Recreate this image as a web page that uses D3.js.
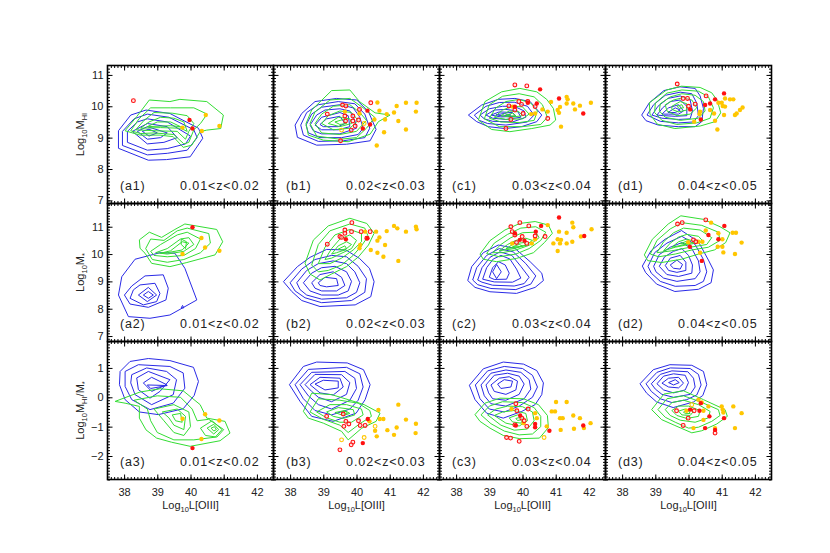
<!DOCTYPE html>
<html>
<head>
<meta charset="utf-8">
<script src="https://cdn.jsdelivr.net/npm/d3@7"></script>
<style>
  body { margin: 0; background: #fff; }
  text { font-family: "Liberation Sans", Arial, sans-serif; fill: #222; }
</style>
</head>
<body>
<svg id="chart" width="830" height="553"></svg>
<script>
// ---- axes ----
const xDomain = [37.5, 42.5];
const xTicks = [38, 39, 40, 41, 42];
const rowDomains = [[6.9, 11.3], [6.8, 11.85], [-2.8, 1.9]];
const rowTicks = [[7, 8, 9, 10, 11], [7, 8, 9, 10, 11], [-2, -1, 0, 1]];
const colLetters = ["a", "b", "c", "d"];
const zBins = ["0.01<z<0.02", "0.02<z<0.03", "0.03<z<0.04", "0.04<z<0.05"];

// ---- contours: each ring is a flat list x0,y0,x1,y1,... (blue = parent sample, green = comparison sample)
const a1Blue = [
  [37.83,9.22, 37.83,8.66, 38.73,8.28, 39.28,8.30, 39.99,8.39, 40.37,8.98, 40.24,9.30, 39.38,9.77, 38.66,9.88, 38.20,9.72],
  [37.95,9.2, 37.95,8.75, 38.7,8.45, 39.3,8.5, 39.9,8.6, 40.2,9.0, 40.1,9.25, 39.35,9.65, 38.7,9.75, 38.3,9.6],
  [38.1,9.2, 38.1,8.85, 38.7,8.6, 39.3,8.65, 39.85,8.8, 40.0,9.05, 39.3,9.5, 38.7,9.6, 38.4,9.5],
  [38.25,9.2, 38.7,8.8, 39.2,8.85, 39.6,9.0, 39.3,9.35, 38.7,9.45],
  [38.4,9.2, 38.7,8.95, 39.1,9.0, 39.3,9.15, 38.7,9.35],
  [38.55,9.2, 38.75,9.05, 39.0,9.15, 38.75,9.27]
];
const a1Green = [
  [38.03,9.22, 38.38,9.67, 38.76,10.20, 39.38,10.15, 39.68,10.22, 40.49,10.15, 40.99,9.72, 40.91,9.29, 40.49,9.24, 40.29,9.19, 40.04,8.76, 39.78,8.69, 39.48,9.03, 39.08,9.08, 38.48,9.08],
  [38.2,9.22, 38.45,9.6, 38.8,9.95, 39.4,9.95, 40.1,9.95, 40.5,9.75, 40.3,9.45, 40.1,9.25, 39.95,8.85, 39.8,8.8, 39.5,9.1, 38.9,9.15, 38.5,9.13],
  [38.35,9.25, 38.6,9.55, 38.9,9.8, 39.45,9.78, 39.9,9.7, 40.1,9.45, 39.95,9.2, 39.85,8.95, 39.6,9.2, 38.9,9.22],
  [38.5,9.3, 38.75,9.5, 39.1,9.65, 39.5,9.62, 39.8,9.5, 39.9,9.2, 39.7,9.3, 39.1,9.32],
  [38.7,9.35, 39.0,9.5, 39.4,9.5, 39.7,9.35, 39.4,9.38]
];
const a2Blue = [
  [38.33,9.81, 39.08,10.05, 39.53,10.03, 39.83,9.48, 40.19,8.32, 39.38,7.77, 38.78,7.65, 38.13,7.71, 37.83,8.50, 37.93,9.17],
  [38.63,9.20, 39.18,9.24, 39.33,8.75, 39.26,8.32, 38.73,8.05, 38.18,8.17, 38.01,8.50, 38.23,8.83],
  [38.48,8.87, 38.93,8.93, 39.08,8.56, 38.98,8.26, 38.58,8.14, 38.18,8.38, 38.28,8.69],
  [38.73,8.78, 38.98,8.50, 38.70,8.26, 38.43,8.50],
  [38.73,8.63, 38.88,8.50, 38.73,8.38, 38.58,8.50],
  [39.72,8.03, 39.76,8.12, 39.8,8.03]
];
const a2Green = [
  [38.46,10.52, 38.76,10.80, 39.13,10.61, 39.53,10.90, 39.83,11.10, 40.79,10.90, 40.97,10.45, 40.74,9.97, 39.89,9.69, 39.38,9.54, 38.83,9.66, 38.63,10.03, 38.48,10.21],
  [38.65,10.2, 38.8,10.55, 39.2,10.5, 39.6,10.85, 39.9,10.95, 40.55,10.75, 40.6,10.4, 40.3,10.05, 39.8,9.8, 39.3,9.7, 38.85,9.8],
  [38.8,10.1, 39.1,10.35, 39.6,10.7, 39.9,10.8, 40.3,10.55, 40.15,10.2, 39.8,9.95, 39.3,9.9, 38.9,9.95],
  [38.95,10.05, 39.3,10.2, 39.7,10.55, 39.95,10.6, 40.1,10.35, 39.8,10.1, 39.3,10.0],
  [39.1,10.03, 39.4,10.12, 39.75,10.45, 39.95,10.4, 39.75,10.15, 39.3,10.05],
  [39.72,10.55, 39.88,10.45, 39.85,10.2, 39.72,10.35]
];
const a3Blue = [
  [37.88,0.88, 38.18,1.22, 38.73,1.32, 39.38,1.25, 40.09,1.02, 40.24,0.54, 40.11,0.06, 39.78,-0.39, 39.03,-0.59, 38.46,-0.50, 38.03,-0.08, 37.86,0.43],
  [38.03,0.88, 38.43,1.11, 39.38,1.05, 39.78,0.83, 39.83,0.31, 39.48,-0.2, 38.78,-0.42, 38.23,-0.08, 38.03,0.37],
  [38.23,0.77, 38.68,1.0, 39.28,0.88, 39.58,0.6, 39.48,0.09, 38.83,-0.25, 38.33,0.09, 38.2,0.49],
  [38.38,0.66, 38.73,0.88, 39.38,0.6, 39.08,0.2, 38.78,-0.03, 38.43,0.26],
  [38.58,0.49, 38.83,0.68, 39.28,0.43, 38.83,0.2],
  [38.7,0.42, 39.3,0.4, 38.8,0.3]
];
const a3Green = [
  [37.73,-0.14, 38.48,0.18, 39.08,0.29, 39.78,0.22, 40.29,-0.25, 40.49,-0.71, 41.04,-0.82, 41.19,-1.22, 40.89,-1.48, 39.99,-1.67, 39.43,-1.53, 38.98,-1.39, 38.66,-1.11, 38.46,-0.71, 38.46,-0.31, 38.03,-0.20],
  [38.3,-0.1, 39.0,0.05, 39.7,0.0, 40.05,-0.4, 40.2,-0.8, 40.55,-0.75, 41.0,-1.1, 40.8,-1.35, 40.1,-1.45, 39.5,-1.45, 39.0,-1.2, 38.8,-0.8, 38.7,-0.4],
  [38.9,-0.4, 39.5,-0.25, 39.95,-0.5, 40.0,-1.0, 39.8,-1.3, 39.5,-1.2, 39.2,-0.8],
  [39.15,-0.5, 39.6,-0.4, 39.85,-0.65, 39.8,-1.1, 39.5,-0.95, 39.35,-0.7],
  [39.45,-0.6, 39.7,-0.55, 39.75,-0.85, 39.55,-0.8],
  [40.3,-1.05, 40.65,-0.8, 40.95,-1.1, 40.75,-1.35, 40.45,-1.3],
  [40.5,-1.05, 40.7,-0.92, 40.85,-1.1, 40.7,-1.25],
  [40.62,-1.05, 40.72,-1.0, 40.78,-1.1, 40.7,-1.15]
];
const b1Blue = [
  [38.15,9.40, 38.35,9.77, 38.75,10.15, 39.40,10.25, 40.01,10.20, 40.36,9.83, 40.59,9.26, 40.41,8.90, 39.70,8.79, 38.80,8.76, 38.22,9.01],
  [38.32,9.4, 38.5,9.8, 38.85,10.05, 39.45,10.15, 39.95,10.08, 40.25,9.75, 40.4,9.3, 40.25,9.0, 39.6,8.9, 38.85,8.88, 38.4,9.08],
  [38.48,9.4, 38.65,9.75, 38.95,9.97, 39.5,10.05, 39.9,9.95, 40.1,9.65, 40.2,9.3, 40.05,9.1, 39.55,9.0, 38.9,9.0, 38.55,9.15],
  [38.6,9.4, 38.8,9.72, 39.05,9.88, 39.5,9.92, 39.8,9.85, 39.95,9.55, 40.0,9.3, 39.5,9.12, 38.95,9.12, 38.7,9.22],
  [38.75,9.4, 38.95,9.65, 39.5,9.8, 39.75,9.7, 39.8,9.35, 39.45,9.25, 38.95,9.25],
  [38.9,9.42, 39.1,9.6, 39.5,9.68, 39.65,9.45, 39.45,9.35, 39.0,9.35]
];
const b1Green = [
  [38.48,9.45, 38.65,9.88, 39.25,10.50, 39.80,10.52, 40.09,10.15, 40.56,9.79, 41.01,9.72, 40.66,9.51, 40.41,9.11, 39.75,8.87, 39.00,8.92, 38.55,9.08],
  [38.6,9.45, 38.75,9.82, 39.2,10.2, 39.8,10.25, 40.2,9.95, 40.55,9.65, 40.3,9.3, 40.0,9.0, 39.5,8.95, 38.8,9.05],
  [38.75,9.45, 38.95,9.75, 39.3,10.0, 39.8,10.05, 40.1,9.8, 40.3,9.55, 40.0,9.2, 39.5,9.1, 38.95,9.15],
  [38.95,9.45, 39.15,9.7, 39.5,9.85, 39.85,9.8, 40.05,9.55, 39.8,9.3, 39.3,9.25],
  [39.15,9.45, 39.45,9.65, 39.8,9.6, 39.85,9.45, 39.5,9.35],
  [39.35,9.5, 39.6,9.58, 39.7,9.45, 39.5,9.42]
];
const b2Blue = [
  [37.80,8.99, 38.22,9.54, 38.60,9.88, 39.10,10.17, 39.68,10.15, 40.09,9.84, 40.39,9.48, 40.53,8.99, 40.43,8.44, 39.96,8.14, 38.90,8.08, 38.35,8.30, 38.05,8.63],
  [38.0,8.95, 38.35,9.45, 38.75,9.8, 39.25,9.95, 39.7,9.9, 40.05,9.55, 40.3,9.1, 40.25,8.6, 39.85,8.3, 38.95,8.22, 38.45,8.4, 38.15,8.65],
  [38.2,8.95, 38.5,9.4, 38.85,9.65, 39.3,9.75, 39.7,9.65, 39.95,9.35, 40.1,8.95, 40.0,8.6, 39.7,8.4, 38.95,8.35, 38.5,8.5, 38.3,8.7],
  [38.4,8.95, 38.65,9.3, 38.95,9.5, 39.35,9.55, 39.7,9.35, 39.85,9.0, 39.75,8.65, 39.45,8.5, 38.95,8.5, 38.6,8.65],
  [38.65,8.95, 38.9,9.25, 39.3,9.35, 39.55,9.15, 39.65,8.85, 39.4,8.65, 38.95,8.65, 38.75,8.75],
  [38.85,8.95, 39.05,9.15, 39.4,9.1, 39.45,8.85, 39.1,8.8, 38.9,8.85]
];
const b2Green = [
  [38.45,9.66, 38.70,10.51, 39.15,11.03, 39.80,11.31, 40.31,11.12, 40.53,10.76, 40.36,10.33, 40.06,9.90, 39.70,9.54, 39.25,9.27, 38.90,9.05, 38.60,9.27],
  [38.65,9.6, 38.85,10.35, 39.2,10.85, 39.8,11.1, 40.25,10.95, 40.35,10.65, 40.15,10.3, 39.9,9.95, 39.55,9.6, 39.15,9.4, 38.85,9.35],
  [38.85,9.65, 39.05,10.25, 39.35,10.7, 39.8,10.9, 40.15,10.75, 40.15,10.45, 39.9,10.15, 39.55,9.85, 39.2,9.65],
  [39.05,9.8, 39.25,10.2, 39.5,10.55, 39.8,10.7, 40.0,10.5, 39.85,10.2, 39.5,10.0, 39.25,9.85],
  [39.25,10.0, 39.45,10.3, 39.7,10.45, 39.85,10.35, 39.65,10.15, 39.4,10.05],
  [39.45,10.18, 39.65,10.3, 39.7,10.2, 39.55,10.15]
];
const b3Blue = [
  [37.98,0.43, 38.40,1.05, 38.80,1.20, 39.72,1.17, 40.21,0.94, 40.41,0.43, 40.26,-0.08, 39.99,-0.54, 39.30,-0.82, 38.65,-0.65, 38.30,-0.14],
  [38.15,0.43, 38.55,0.95, 39.7,1.02, 40.1,0.8, 40.2,0.35, 40.05,-0.1, 39.8,-0.4, 39.25,-0.6, 38.75,-0.45, 38.4,-0.05],
  [38.3,0.43, 38.65,0.85, 39.65,0.88, 39.95,0.65, 40.0,0.3, 39.8,-0.1, 39.25,-0.4, 38.85,-0.25, 38.55,0.05],
  [38.45,0.43, 38.75,0.78, 39.55,0.77, 39.8,0.5, 39.7,0.1, 39.25,-0.15, 38.85,0.0, 38.65,0.2],
  [38.6,0.43, 38.9,0.68, 39.5,0.65, 39.6,0.35, 39.3,0.08, 38.9,0.15],
  [38.75,0.45, 39.0,0.58, 39.45,0.55, 39.45,0.32, 39.05,0.25]
];
const b3Green = [
  [38.40,-0.48, 38.65,0.14, 39.25,0.09, 39.75,-0.08, 40.23,-0.25, 40.71,-0.54, 40.59,-0.82, 40.16,-1.05, 39.75,-1.45, 39.55,-1.16, 39.00,-0.88, 38.55,-0.71],
  [38.6,-0.5, 38.85,-0.05, 39.5,-0.1, 40.05,-0.2, 40.4,-0.45, 40.45,-0.65, 40.1,-0.9, 39.75,-1.2, 39.5,-0.95, 39.0,-0.75],
  [38.8,-0.5, 39.2,-0.25, 39.7,-0.25, 40.15,-0.4, 40.2,-0.6, 39.85,-0.85, 39.5,-0.85, 39.1,-0.7],
  [39.1,-0.5, 39.45,-0.35, 39.9,-0.42, 39.95,-0.6, 39.6,-0.72, 39.3,-0.65],
  [39.35,-0.52, 39.65,-0.45, 39.8,-0.55, 39.6,-0.62],
  [39.55,-0.5, 39.7,-0.48, 39.72,-0.56, 39.58,-0.57]
];
const c1Blue = [
  [38.37,9.72, 38.77,10.04, 39.27,10.22, 39.77,10.25, 40.23,10.15, 40.58,9.72, 40.43,9.51, 39.97,9.35, 39.47,9.29, 38.97,9.35, 38.62,9.51],
  [38.55,9.72, 38.9,10.0, 39.3,10.12, 39.75,10.13, 40.15,10.0, 40.35,9.72, 40.15,9.5, 39.5,9.4, 38.95,9.45, 38.7,9.55],
  [38.72,9.72, 39.0,9.92, 39.4,10.0, 39.75,10.0, 40.05,9.85, 40.1,9.65, 39.7,9.5, 39.1,9.52, 38.85,9.6],
  [38.9,9.72, 39.15,9.88, 39.5,9.9, 39.85,9.85, 39.95,9.65, 39.5,9.58, 39.1,9.62],
  [39.05,9.72, 39.3,9.82, 39.7,9.8, 39.8,9.68, 39.35,9.66],
  [39.2,9.73, 39.45,9.77, 39.65,9.72, 39.4,9.69]
];
const c1Green = [
  [38.67,9.56, 38.87,10.15, 39.37,10.46, 39.92,10.57, 40.43,10.46, 40.73,10.22, 40.93,9.93, 41.00,9.56, 40.83,9.40, 40.28,9.29, 39.62,9.19, 39.07,9.26],
  [38.85,9.6, 39.0,10.05, 39.4,10.32, 39.9,10.4, 40.35,10.3, 40.6,10.05, 40.75,9.65, 40.55,9.42, 40.0,9.35, 39.3,9.35],
  [39.0,9.62, 39.2,9.95, 39.5,10.15, 39.9,10.22, 40.25,10.1, 40.45,9.85, 40.35,9.55, 39.9,9.48, 39.35,9.5],
  [39.15,9.65, 39.4,9.88, 39.7,10.0, 40.0,9.98, 40.2,9.75, 40.0,9.6, 39.5,9.58],
  [39.35,9.7, 39.6,9.85, 39.9,9.82, 40.0,9.7, 39.65,9.65],
  [39.5,9.72, 39.7,9.78, 39.8,9.7, 39.65,9.69]
];
const c2Blue = [
  [38.35,9.03, 38.47,9.54, 38.82,10.05, 39.27,10.33, 39.77,10.21, 40.23,9.72, 40.58,9.30, 40.63,9.03, 40.38,8.78, 39.82,8.56, 39.02,8.62, 38.57,8.78],
  [38.5,9.05, 38.62,9.5, 38.92,9.95, 39.3,10.2, 39.72,10.08, 40.1,9.65, 40.4,9.2, 40.25,8.9, 39.8,8.7, 39.05,8.74, 38.65,8.88],
  [38.65,9.05, 38.78,9.5, 39.02,9.88, 39.32,10.08, 39.68,9.95, 39.95,9.55, 40.2,9.15, 40.05,8.92, 39.75,8.83, 39.1,8.86, 38.78,8.97],
  [38.8,9.08, 38.92,9.5, 39.12,9.82, 39.35,9.95, 39.62,9.82, 39.82,9.45, 39.95,9.12, 39.7,8.97, 39.15,8.98],
  [39.0,9.15, 39.1,9.5, 39.28,9.72, 39.48,9.6, 39.6,9.3, 39.52,9.08, 39.15,9.07],
  [39.22,9.62, 39.36,9.35, 39.22,9.1, 39.1,9.35]
];
const c2Green = [
  [38.72,10.00, 39.02,10.49, 39.47,10.88, 39.92,11.12, 40.38,11.19, 40.78,11.06, 40.90,10.76, 40.66,10.42, 40.33,10.05, 39.82,9.84, 39.22,9.72, 38.82,9.81],
  [38.92,10.02, 39.15,10.4, 39.55,10.72, 39.95,10.95, 40.4,11.0, 40.7,10.8, 40.55,10.5, 40.2,10.2, 39.8,10.0, 39.3,9.9],
  [39.1,10.05, 39.35,10.35, 39.65,10.6, 40.0,10.78, 40.4,10.8, 40.5,10.6, 40.2,10.32, 39.8,10.15, 39.4,10.05],
  [39.3,10.12, 39.55,10.35, 39.8,10.5, 40.1,10.58, 40.3,10.5, 40.1,10.32, 39.75,10.2],
  [39.5,10.2, 39.75,10.38, 40.05,10.42, 40.1,10.32, 39.8,10.25],
  [39.7,10.27, 39.9,10.35, 40.0,10.3, 39.85,10.26]
];
const c3Blue = [
  [38.40,0.41, 38.82,0.97, 39.42,1.20, 40.03,1.13, 40.43,0.91, 40.63,0.49, 40.58,0.09, 40.38,-0.25, 39.98,-0.48, 39.42,-0.71, 38.92,-0.54, 38.57,-0.08],
  [38.58,0.42, 38.95,0.9, 39.45,1.05, 40.0,0.98, 40.3,0.75, 40.45,0.35, 40.3,0.0, 39.9,-0.3, 39.45,-0.5, 39.0,-0.4, 38.72,-0.05],
  [38.75,0.42, 39.05,0.82, 39.5,0.93, 39.95,0.85, 40.2,0.6, 40.25,0.28, 40.05,-0.05, 39.5,-0.3, 39.05,-0.22, 38.85,0.05],
  [38.9,0.42, 39.15,0.75, 39.55,0.82, 39.9,0.72, 40.05,0.45, 39.9,0.1, 39.5,-0.1, 39.1,-0.05, 38.98,0.15],
  [39.05,0.42, 39.3,0.65, 39.6,0.7, 39.85,0.55, 39.8,0.25, 39.5,0.1, 39.15,0.2],
  [39.25,0.45, 39.45,0.6, 39.7,0.55, 39.65,0.35, 39.35,0.3]
];
const c3Green = [
  [38.57,-0.59, 38.87,-0.20, 39.32,-0.03, 40.03,-0.05, 40.48,-0.25, 40.75,-0.62, 40.78,-1.03, 40.51,-1.39, 39.92,-1.41, 39.42,-1.30, 39.02,-1.05, 38.72,-0.82],
  [38.75,-0.6, 39.0,-0.3, 39.4,-0.15, 40.0,-0.18, 40.35,-0.35, 40.55,-0.65, 40.55,-1.0, 40.3,-1.25, 39.9,-1.28, 39.45,-1.15, 39.05,-0.9],
  [38.95,-0.6, 39.2,-0.4, 39.55,-0.3, 40.0,-0.32, 40.3,-0.5, 40.35,-0.8, 40.15,-1.08, 39.75,-1.12, 39.35,-0.95],
  [39.15,-0.62, 39.4,-0.5, 39.75,-0.45, 40.1,-0.55, 40.15,-0.8, 39.9,-0.98, 39.5,-0.88],
  [39.6,-0.7, 39.85,-0.6, 40.05,-0.7, 39.95,-0.88, 39.7,-0.84],
  [39.8,-0.72, 39.95,-0.68, 40.0,-0.76, 39.85,-0.79]
];
const d1Blue = [
  [38.59,9.72, 38.82,10.11, 39.26,10.50, 39.74,10.62, 40.20,10.57, 40.35,10.33, 40.45,9.93, 40.40,9.51, 40.20,9.35, 39.69,9.35, 39.09,9.40, 38.72,9.54],
  [38.75,9.72, 38.95,10.05, 39.3,10.35, 39.75,10.45, 40.1,10.4, 40.25,10.1, 40.3,9.7, 40.15,9.5, 39.7,9.47, 39.15,9.52],
  [38.9,9.72, 39.08,10.0, 39.38,10.25, 39.75,10.33, 40.05,10.2, 40.12,9.85, 40.05,9.6, 39.7,9.58, 39.2,9.62],
  [39.05,9.72, 39.22,9.95, 39.45,10.15, 39.75,10.2, 39.95,10.0, 39.95,9.7, 39.6,9.68, 39.25,9.7],
  [39.2,9.75, 39.4,9.95, 39.7,10.05, 39.85,9.85, 39.7,9.75, 39.4,9.75],
  [39.38,9.8, 39.6,9.95, 39.75,9.88, 39.6,9.8]
];
const d1Green = [
  [38.82,10.11, 39.34,10.52, 39.79,10.64, 40.35,10.60, 40.70,10.43, 40.87,10.18, 40.97,9.79, 40.80,9.51, 40.35,9.37, 39.59,9.29, 39.06,9.43, 38.84,9.75],
  [39.0,10.1, 39.35,10.42, 39.8,10.52, 40.3,10.48, 40.6,10.3, 40.75,9.95, 40.65,9.62, 40.25,9.47, 39.65,9.42, 39.2,9.55, 38.98,9.8],
  [39.15,10.08, 39.45,10.3, 39.8,10.4, 40.2,10.35, 40.45,10.15, 40.5,9.85, 40.3,9.62, 39.75,9.55, 39.3,9.65, 39.12,9.85],
  [39.3,10.05, 39.55,10.2, 39.85,10.28, 40.1,10.2, 40.25,9.95, 40.05,9.75, 39.65,9.7, 39.35,9.85],
  [39.5,10.0, 39.75,10.15, 39.95,10.08, 39.95,9.88, 39.7,9.82, 39.5,9.9],
  [39.65,10.0, 39.8,10.05, 39.85,9.95, 39.72,9.93]
];
const d2Blue = [
  [38.61,9.56, 38.87,10.12, 39.29,10.54, 39.79,10.86, 40.30,10.45, 40.60,9.78, 40.75,9.42, 40.68,8.95, 40.30,8.71, 39.59,8.63, 39.04,8.90, 38.71,9.32],
  [38.78,9.55, 38.98,10.05, 39.35,10.4, 39.8,10.65, 40.2,10.35, 40.45,9.8, 40.55,9.35, 40.45,9.0, 40.2,8.85, 39.6,8.82, 39.15,9.0, 38.88,9.3],
  [38.95,9.55, 39.12,9.98, 39.45,10.25, 39.8,10.42, 40.1,10.2, 40.3,9.75, 40.35,9.35, 40.2,9.1, 39.65,9.0, 39.25,9.12, 39.02,9.35],
  [39.12,9.55, 39.28,9.9, 39.55,10.1, 39.8,10.2, 40.0,9.95, 40.12,9.6, 40.1,9.3, 39.7,9.18, 39.35,9.25],
  [39.3,9.58, 39.45,9.85, 39.75,9.95, 39.92,9.7, 39.92,9.4, 39.65,9.33, 39.4,9.4],
  [39.45,9.6, 39.65,9.78, 39.82,9.62, 39.75,9.45, 39.55,9.48]
];
const d2Green = [
  [38.67,9.97, 38.91,10.54, 39.39,11.10, 39.77,11.40, 40.45,11.27, 40.95,11.00, 41.25,10.78, 41.12,10.42, 40.78,10.15, 40.30,10.00, 39.79,9.81, 39.19,9.69, 38.77,9.76],
  [38.85,10.0, 39.05,10.5, 39.45,10.92, 39.8,11.15, 40.4,11.05, 40.9,10.8, 40.95,10.5, 40.6,10.25, 40.1,10.15, 39.6,10.0, 39.1,9.9],
  [39.05,10.05, 39.25,10.45, 39.55,10.78, 39.85,10.95, 40.35,10.88, 40.7,10.6, 40.55,10.35, 40.05,10.25, 39.5,10.12],
  [39.25,10.12, 39.45,10.4, 39.7,10.62, 39.95,10.72, 40.3,10.65, 40.45,10.45, 40.0,10.35, 39.6,10.25],
  [39.5,10.25, 39.7,10.45, 39.95,10.55, 40.2,10.45, 39.9,10.35],
  [39.75,10.38, 39.95,10.47, 40.05,10.42, 39.85,10.37]
];
const d3Blue = [
  [38.54,0.46, 38.94,0.94, 39.44,1.11, 40.10,1.09, 40.45,0.88, 40.55,0.43, 40.43,0.06, 40.15,-0.16, 39.54,-0.35, 39.04,-0.16, 38.74,0.14],
  [38.72,0.46, 39.05,0.85, 39.45,1.0, 40.05,0.98, 40.3,0.78, 40.38,0.42, 40.25,0.08, 39.95,-0.08, 39.5,-0.18, 39.15,-0.05, 38.88,0.2],
  [38.88,0.46, 39.15,0.78, 39.5,0.9, 39.98,0.87, 40.15,0.65, 40.2,0.35, 40.05,0.1, 39.55,0.0, 39.2,0.1, 39.0,0.28],
  [39.05,0.46, 39.25,0.72, 39.55,0.8, 39.9,0.75, 40.0,0.5, 39.9,0.25, 39.55,0.15, 39.25,0.25],
  [39.2,0.48, 39.4,0.65, 39.7,0.68, 39.85,0.48, 39.7,0.32, 39.4,0.35],
  [39.4,0.5, 39.6,0.6, 39.72,0.5, 39.55,0.42]
];
const d3Green = [
  [38.89,-0.42, 39.26,0.11, 39.85,0.22, 40.45,-0.08, 41.10,-0.42, 41.17,-0.65, 40.85,-0.91, 40.40,-1.14, 40.10,-1.21, 39.59,-0.96, 39.19,-0.76],
  [39.08,-0.42, 39.35,-0.05, 39.85,0.05, 40.35,-0.15, 40.9,-0.42, 40.95,-0.62, 40.7,-0.82, 40.3,-1.02, 40.0,-1.05, 39.6,-0.85, 39.3,-0.68],
  [39.3,-0.42, 39.5,-0.18, 39.85,-0.1, 40.3,-0.25, 40.65,-0.48, 40.6,-0.7, 40.2,-0.85, 39.75,-0.78, 39.45,-0.62],
  [39.5,-0.45, 39.7,-0.3, 40.0,-0.3, 40.35,-0.45, 40.3,-0.65, 39.95,-0.72, 39.65,-0.62],
  [39.7,-0.47, 39.9,-0.4, 40.15,-0.48, 40.05,-0.62, 39.8,-0.6],
  [39.85,-0.5, 40.0,-0.46, 40.05,-0.55, 39.9,-0.56]
];

// ---- individual galaxies [logL, value]
const a1RedOpen = [[38.28,10.18]];
const a1RedFill = [[39.97,9.56],[40.06,9.29]];
const a1Gold = [[39.76,9.32],[40.46,9.72],[40.34,9.21],[40.87,9.37]];
const a2RedFill = [[40.06,10.98]];
const a2Gold = [[40.33,10.59],[40.44,10.24],[39.76,10.00],[40.87,10.12]];
const a3RedFill = [[40.06,-1.73]];
const a3Gold = [[39.76,-0.73],[40.44,-0.58],[40.87,-0.79],[40.33,-1.42]];

const b1RedOpen = [[39.58,10.04],[39.68,10.01],[39.12,9.75],[39.65,9.69],[39.67,9.53],[39.89,9.69],[39.89,9.53],[39.84,9.24],[39.96,9.37],[40.09,9.90],[40.43,10.11],[39.52,8.90],[40.06,9.56]];
const b1RedFill = [[40.33,9.86],[40.19,9.29],[40.41,9.42]];
const b1Gold = [[40.63,10.12],[40.69,9.86],[40.54,9.58],[40.91,9.75],[40.86,9.58],[41.21,10.01],[41.49,10.11],[41.81,10.11],[41.13,9.80],[41.26,9.53],[41.79,9.83],[41.49,9.26],[40.83,9.17],[40.61,8.75],[40.09,9.77],[39.65,9.83]];
const b1GoldOpen = [[40.23,9.45],[39.55,9.24]];
const b2RedOpen = [[39.12,10.36],[39.50,10.64],[39.65,10.76],[39.65,10.88],[39.86,11.15],[39.85,10.82],[40.14,10.82],[40.41,10.82],[40.31,10.58],[39.55,10.61]];
const b2RedFill = [[40.33,10.58],[39.68,10.54]];
const b2Gold = [[40.26,10.82],[40.59,10.82],[40.91,10.84],[41.13,11.03],[41.23,10.94],[41.49,10.82],[41.79,11.0],[41.81,10.91],[40.69,10.61],[40.63,10.49],[40.86,10.33],[40.11,10.33],[40.43,10.15],[40.63,10.05],[40.81,9.90],[41.26,9.75],[40.09,10.21]];
const b3RedOpen = [[39.10,-0.65],[39.60,-0.57],[39.68,-0.82],[39.62,-0.99],[39.77,-0.91],[40.11,-0.96],[40.26,-0.96],[39.89,-1.53],[39.84,-1.62],[39.50,-1.79],[40.06,-0.80]];
const b3RedFill = [[40.34,-0.74],[40.19,-1.56]];
const b3Gold = [[40.66,-0.43],[41.26,-0.25],[41.49,-0.76],[40.81,-0.74],[40.56,-1.14],[40.61,-1.33],[40.93,-1.12],[41.21,-1.03],[41.13,-1.28],[41.79,-0.90],[41.78,-1.22],[40.39,-0.82],[40.70,-0.74]];
const b3GoldOpen = [[39.55,-1.45],[40.23,-1.37],[40.56,-0.99]];

const c1RedOpen = [[39.77,10.68],[40.13,10.65],[39.59,10.01],[39.97,10.06],[39.89,10.15],[40.16,10.15],[39.77,9.88],[39.65,9.58],[39.50,9.29],[40.38,9.99],[40.76,9.61],[40.02,9.77]];
const c1RedFill = [[40.53,10.54],[41.10,10.25],[40.43,10.09],[39.77,9.99],[40.16,10.11],[41.83,9.77]];
const c1Gold = [[40.86,10.14],[41.33,10.30],[41.36,10.22],[41.33,10.09],[41.53,10.09],[41.73,10.02],[42.06,10.11],[41.13,9.98],[41.06,9.88],[41.10,9.79],[40.76,9.83],[41.16,9.35],[40.38,9.77],[40.26,9.75],[41.58,9.90],[39.70,9.99],[40.60,9.90]];
const c2RedOpen = [[39.65,11.00],[39.92,11.15],[40.19,11.03],[39.69,10.82],[39.77,10.70],[39.99,10.64],[39.82,10.42],[40.38,10.66],[40.68,10.64],[40.13,10.39]];
const c2RedFill = [[40.56,11.03],[41.10,11.34],[40.40,10.82],[39.77,10.76],[39.92,10.52],[41.86,10.66],[40.06,10.49]];
const c2Gold = [[40.76,11.06],[41.10,10.82],[41.33,10.78],[41.50,11.15],[41.53,10.98],[41.76,10.64],[42.08,10.91],[41.06,10.54],[41.16,10.52],[41.13,10.39],[40.93,10.39],[41.33,10.39],[41.50,10.45],[41.06,10.11],[40.38,10.54],[39.69,10.39],[40.28,10.39]];
const c3RedOpen = [[39.80,-0.22],[39.83,-0.46],[40.17,-0.40],[39.98,-0.71],[40.05,-0.80],[40.13,-0.99],[39.52,-1.37],[39.64,-1.39],[39.90,-1.50],[39.77,-0.94]];
const c3RedFill = [[39.93,-0.62],[39.80,-0.96],[40.38,-0.91],[40.38,-1.02],[40.81,-1.14],[41.83,-0.96]];
const c3Gold = [[40.38,-0.54],[40.43,-0.71],[41.01,-0.16],[41.33,-0.16],[40.88,-0.48],[40.98,-0.48],[41.13,-0.71],[41.21,-0.71],[41.53,-0.62],[41.73,-0.71],[42.05,-0.88],[41.85,-1.05],[41.55,-1.07],[41.15,-1.11],[40.73,-0.99],[39.67,-0.40],[40.03,-0.88]];
const c3GoldOpen = [[40.65,-1.37]];

const d1RedOpen = [[39.66,10.71],[39.84,10.25],[39.97,10.25],[40.20,10.07],[40.53,10.33],[40.00,10.00]];
const d1RedFill = [[41.07,10.41],[40.80,10.22],[40.50,10.04],[40.65,10.09],[40.05,9.90],[40.37,9.58]];
const d1Gold = [[40.90,10.11],[41.00,10.11],[41.10,10.25],[41.25,10.22],[41.35,10.22],[41.03,10.01],[41.10,9.99],[40.65,9.88],[40.77,9.77],[41.07,9.72],[41.45,9.77],[41.40,9.72],[41.55,9.88],[41.63,9.96],[40.80,9.54],[40.87,9.26],[40.17,9.51],[40.35,9.83],[40.33,9.75]];
const d2RedOpen = [[39.67,11.10],[39.81,11.15],[40.52,11.25],[40.15,10.52],[40.22,10.45]];
const d2RedFill = [[41.08,11.03],[40.60,10.70],[40.90,10.54],[40.04,10.27],[40.40,9.75]];
const d2Gold = [[40.68,11.15],[40.90,10.76],[41.33,10.78],[41.43,10.78],[41.60,10.42],[41.02,10.54],[40.88,10.27],[41.02,10.27],[41.05,10.06],[41.40,10.00],[40.30,10.45],[40.42,10.45],[40.35,10.05],[39.99,10.43],[40.52,10.86]];
const d3RedOpen = [[39.64,-0.46],[40.17,-0.46],[39.84,-0.96],[39.99,-0.71],[40.80,-1.22]];
const d3RedFill = [[40.37,-0.20],[40.05,-0.42],[40.33,-0.46],[40.63,-0.65],[40.50,-1.05],[40.80,-1.11],[41.07,-0.71]];
const d3Gold = [[40.30,-0.08],[40.40,-0.18],[40.60,-0.31],[41.00,-0.31],[41.03,-0.42],[41.05,-0.52],[41.35,-0.31],[41.60,-0.54],[41.40,-1.05],[40.80,-1.05],[40.15,-1.05],[40.45,-0.77],[39.94,-0.46],[40.45,-0.46]];
const d3GoldOpen = [[40.10,-0.25]];

// ---- panel table (row-major) ----
const panels = [
  [ {blue:a1Blue, green:a1Green, gold:a1Gold, goldOpen:[], redOpen:a1RedOpen, redFill:a1RedFill},
    {blue:b1Blue, green:b1Green, gold:b1Gold, goldOpen:b1GoldOpen, redOpen:b1RedOpen, redFill:b1RedFill},
    {blue:c1Blue, green:c1Green, gold:c1Gold, goldOpen:[], redOpen:c1RedOpen, redFill:c1RedFill},
    {blue:d1Blue, green:d1Green, gold:d1Gold, goldOpen:[], redOpen:d1RedOpen, redFill:d1RedFill} ],
  [ {blue:a2Blue, green:a2Green, gold:a2Gold, goldOpen:[], redOpen:[], redFill:a2RedFill},
    {blue:b2Blue, green:b2Green, gold:b2Gold, goldOpen:[], redOpen:b2RedOpen, redFill:b2RedFill},
    {blue:c2Blue, green:c2Green, gold:c2Gold, goldOpen:[], redOpen:c2RedOpen, redFill:c2RedFill},
    {blue:d2Blue, green:d2Green, gold:d2Gold, goldOpen:[], redOpen:d2RedOpen, redFill:d2RedFill} ],
  [ {blue:a3Blue, green:a3Green, gold:a3Gold, goldOpen:[], redOpen:[], redFill:a3RedFill},
    {blue:b3Blue, green:b3Green, gold:b3Gold, goldOpen:b3GoldOpen, redOpen:b3RedOpen, redFill:b3RedFill},
    {blue:c3Blue, green:c3Green, gold:c3Gold, goldOpen:c3GoldOpen, redOpen:c3RedOpen, redFill:c3RedFill},
    {blue:d3Blue, green:d3Green, gold:d3Gold, goldOpen:d3GoldOpen, redOpen:d3RedOpen, redFill:d3RedFill} ]
];

// ---- layout ----
const W = 166, H = 138;
const colLeft = [107.5, 273.5, 439.5, 605.5];
const rowTop = [65.5, 203.5, 341.5];
const BLUE = "#2a2ae6", GREEN = "#33dd33", RED = "#ff1010", GOLD = "#ffc600";

const svg = d3.select("#chart");
const x = d3.scaleLinear().domain(xDomain).range([0, W]);
const yScales = rowDomains.map(d => d3.scaleLinear().domain(d).range([H, 0]));
const toPairs = flat => d3.range(0, flat.length, 2).map(i => [flat[i], flat[i + 1]]);
const xMinor = d3.range(37.6, 42.45, 0.1);

svg.append("defs").append("clipPath").attr("id", "clip")
  .append("rect").attr("width", W).attr("height", H);

panels.forEach((row, r) => {
  const y = yScales[r];
  const yMinor = d3.range(Math.ceil(rowDomains[r][0] * 10) / 10, rowDomains[r][1], 0.1);
  const line = d3.line().x(d => x(d[0])).y(d => y(d[1])).curve(d3.curveLinearClosed);

  row.forEach((p, c) => {
    const g = svg.append("g").attr("transform", `translate(${colLeft[c]},${rowTop[r]})`);
    const plot = g.append("g").attr("clip-path", "url(#clip)");

    plot.selectAll(".blue").data(p.blue.map(toPairs)).join("path")
      .attr("d", line).attr("fill", "none").attr("stroke", BLUE).attr("stroke-width", 1);
    plot.selectAll(".green").data(p.green.map(toPairs)).join("path")
      .attr("d", line).attr("fill", "none").attr("stroke", GREEN).attr("stroke-width", 1);

    plot.selectAll(".gold").data(p.gold).join("circle")
      .attr("cx", d => x(d[0])).attr("cy", d => y(d[1])).attr("r", 2.2).attr("fill", GOLD);
    plot.selectAll(".goldOpen").data(p.goldOpen).join("circle")
      .attr("cx", d => x(d[0])).attr("cy", d => y(d[1])).attr("r", 1.9)
      .attr("fill", "none").attr("stroke", GOLD).attr("stroke-width", 1.1);
    plot.selectAll(".redOpen").data(p.redOpen).join("circle")
      .attr("cx", d => x(d[0])).attr("cy", d => y(d[1])).attr("r", 1.9)
      .attr("fill", "#ffd0d0").attr("fill-opacity", 0.6).attr("stroke", RED).attr("stroke-width", 1.1);
    plot.selectAll(".redFill").data(p.redFill).join("circle")
      .attr("cx", d => x(d[0])).attr("cy", d => y(d[1])).attr("r", 2.2).attr("fill", RED);

    // axes on all four sides, ticks pointing inward
    const isBottom = r === panels.length - 1, isLeft = c === 0;
    const mk = (axis, scale, vals, size) => axis(scale).tickValues(vals).tickSize(size).tickSizeOuter(0);

    g.append("g").attr("transform", `translate(0,${H})`)
      .call(mk(d3.axisBottom, x, xMinor, -2.5).tickFormat(""));
    g.append("g").call(mk(d3.axisTop, x, xMinor, -2.5).tickFormat(""));
    g.append("g").call(mk(d3.axisLeft, y, yMinor, -2.5).tickFormat(""));
    g.append("g").attr("transform", `translate(${W},0)`)
      .call(mk(d3.axisRight, y, yMinor, -2.5).tickFormat(""));

    g.append("g").attr("transform", `translate(0,${H})`)
      .call(mk(d3.axisBottom, x, xTicks, -5).tickPadding(9).tickFormat(isBottom ? d3.format("d") : ""));
    g.append("g").call(mk(d3.axisTop, x, xTicks, -5).tickFormat(""));
    g.append("g")
      .call(mk(d3.axisLeft, y, rowTicks[r], -5).tickPadding(4).tickFormat(isLeft ? d3.format("d") : ""));
    g.append("g").attr("transform", `translate(${W},0)`)
      .call(mk(d3.axisRight, y, rowTicks[r], -5).tickFormat(""));

    g.selectAll(".domain").remove();
    g.selectAll(".tick line").attr("stroke", "#000").attr("stroke-width", 1);
    g.selectAll(".tick text").attr("font-size", 11).attr("font-family", null).attr("fill", "#222");

    g.append("rect").attr("width", W).attr("height", H)
      .attr("fill", "none").attr("stroke", "#000").attr("stroke-width", 1.6);

    g.append("text").attr("x", 12.5).attr("y", H - 14).attr("font-size", 12.5).attr("fill", "#333")
      .attr("letter-spacing", 0.8).text(`(${colLetters[c]}${r + 1})`);
    g.append("text").attr("x", W - 14).attr("y", H - 14).attr("font-size", 12.5).attr("fill", "#333")
      .attr("letter-spacing", 0.9).attr("text-anchor", "end").text(zBins[c]);
  });
});

// ---- axis titles: parts are [text, shift] with shift 1 = drop into subscript, -1 = back up
function subLabel(sel, parts) {
  parts.forEach(([t, shift]) => {
    sel.append("tspan").attr("font-size", shift === 1 ? 7.5 : 11)
      .attr("dy", shift === 1 ? 3 : shift === -1 ? -3 : 0).text(t);
  });
}
const yTitles = [
  [["Log"], ["10", 1], ["M", -1], ["HI", 1]],
  [["Log"], ["10", 1], ["M", -1], ["*", 1]],
  [["Log"], ["10", 1], ["M", -1], ["HI", 1], ["/M", -1], ["*", 1]]
];
yTitles.forEach((parts, r) => {
  const t = svg.append("text").attr("text-anchor", "middle")
    .attr("transform", `translate(84,${rowTop[r] + H / 2}) rotate(-90)`);
  subLabel(t, parts);
});
colLeft.forEach(cx => {
  const t = svg.append("text").attr("text-anchor", "middle")
    .attr("x", cx + W / 2).attr("y", 509);
  subLabel(t, [["Log"], ["10", 1], ["L[OIII]", -1]]);
});
</script>
</body>
</html>
